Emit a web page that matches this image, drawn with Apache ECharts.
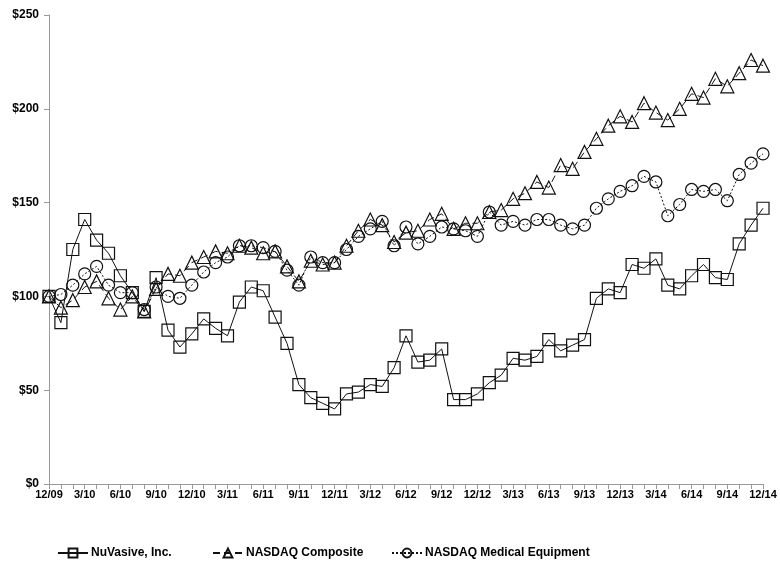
<!DOCTYPE html>
<html><head><meta charset="utf-8">
<script src="https://cdn.jsdelivr.net/npm/echarts@6/dist/echarts.min.js"></script>
<style>html,body{margin:0;padding:0;background:#fff}#c{width:780px;height:584px}</style>
</head><body><div id="c"></div>
<script>
var months = ['12/09','1/10','2/10','3/10','4/10','5/10','6/10','7/10','8/10','9/10','10/10','11/10','12/10',
'1/11','2/11','3/11','4/11','5/11','6/11','7/11','8/11','9/11','10/11','11/11','12/11',
'1/12','2/12','3/12','4/12','5/12','6/12','7/12','8/12','9/12','10/12','11/12','12/12',
'1/13','2/13','3/13','4/13','5/13','6/13','7/13','8/13','9/13','10/13','11/13','12/13',
'1/14','2/14','3/14','4/14','5/14','6/14','7/14','8/14','9/14','10/14','11/14','12/14'];
var yTicks = [0, 50, 100, 150, 200, 250];
var nuvasive = [100,86,125,141,130,123,111,102,92,110,82,73,80,88,83,79,97,105,103,89,75,53,46,43,40,48,49,53,52,62,79,65,66,72,45,45,48,54,58,67,66,68,77,71,74,77,99,104,102,117,115,120,106,104,111,117,110,109,128,138,147];
var nasdaqComposite = [100,94,98,105,108,99,93,100,92,104,112,111,118,121,124,123,127,126,123,124,116,108,119,117,118,127,135,141,138,129,134,135,141,144,136,139,139,145,146,152,155,161,158,170,168,177,184,191,196,193,203,198,194,200,208,206,216,212,219,226,223];
var nasdaqMedical = [100,101,106,112,116,106,102,102,93,105,100,99,106,113,118,121,127,127,126,124,114,106,121,118,118,125,132,136,140,127,137,128,132,137,136,135,132,145,138,140,138,141,141,138,136,138,147,152,156,159,164,161,143,149,157,156,157,151,165,171,176];
var names = ['NuVasive, Inc.', 'NASDAQ Composite', 'NASDAQ Medical Equipment'];

var txt = {color:'#000', fontWeight:'bold', fontFamily:'Liberation Sans, Arial, sans-serif'};
var chart = echarts.init(document.getElementById('c'));
function ser(name, data, sym, size, dash){
  return {name:name, type:'line', data:data, symbol:sym, symbolSize:size, showSymbol:true, showAllSymbol:true,
    lineStyle:{color:'#111', width:1, type:dash},
    itemStyle:{color:'rgba(255,255,255,0)', borderColor:'#111', borderWidth:1.2},
    emphasis:{disabled:true}, animation:false};
}
var legTxt = {color:'#000', fontWeight:'bold', fontSize:12, padding:[0,0,0,-2], fontFamily:'Liberation Sans, Arial, sans-serif'};
chart.setOption({
  animation:false,
  grid:{left:49, right:17, top:15, bottom:100, containLabel:false},
  legend:[
    {data:[names[0]], left:52, top:542, itemWidth:30, itemHeight:11, itemGap:0, textStyle:legTxt},
    {data:[names[1]], left:207, top:542, itemWidth:30, itemHeight:11, itemGap:0, textStyle:legTxt},
    {data:[names[2]], left:386, top:542, itemWidth:30, itemHeight:11, itemGap:0, textStyle:legTxt}
  ],
  xAxis:{type:'category', data:months, boundaryGap:false,
    axisLine:{lineStyle:{color:'#999', width:1}},
    axisTick:{show:true, interval:0, length:5, inside:false, lineStyle:{color:'#999'}},
    axisLabel:Object.assign({interval:2, fontSize:11, margin:5}, txt),
    splitLine:{show:false}},
  yAxis:{type:'value', min:yTicks[0], max:yTicks[yTicks.length-1], interval:50,
    axisLine:{show:true, lineStyle:{color:'#999', width:1}},
    axisTick:{show:true, length:5, lineStyle:{color:'#999'}},
    axisLabel:Object.assign({fontSize:12, margin:10, formatter:function(v){return '$'+v;}}, txt),
    splitLine:{show:false}},
  series:[
    ser(names[0], nuvasive, 'rect', 12, 'solid'),
    ser(names[1], nasdaqComposite, 'triangle', 13, [7,4]),
    ser(names[2], nasdaqMedical, 'circle', 12, [2,2])
  ]
});
</script></body></html>
